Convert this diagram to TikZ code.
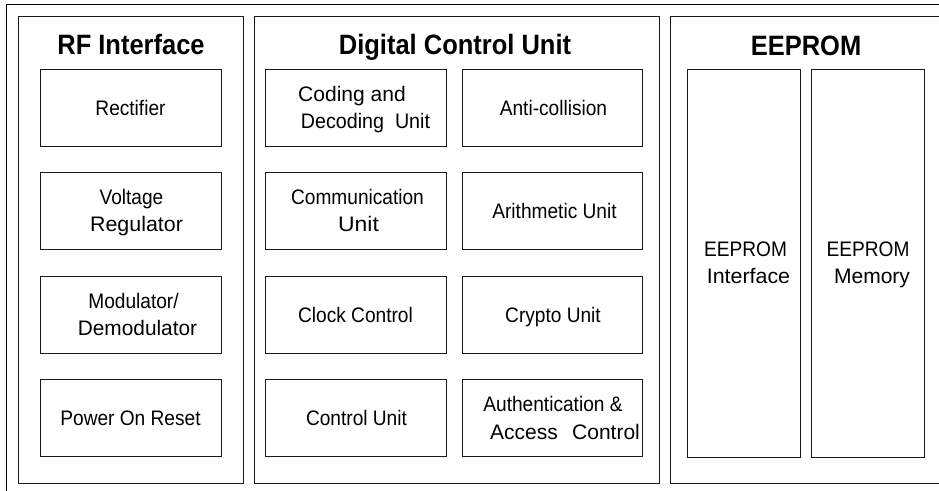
\documentclass[tikz,border=0pt]{standalone}
\usepackage{fontspec}
\setmainfont{Liberation Sans}[FakeStretch=0.91]
\begin{document}
\begin{tikzpicture}[x=1pt,y=-1pt,
  ln/.style={draw=black!90, line width=1pt},
  blk/.style={ln, rectangle, inner sep=0pt},
  rfbox/.style={blk, minimum width=181pt, minimum height=77pt},
  dubox/.style={blk, minimum width=181pt, minimum height=77pt},
  dubox2/.style={blk, minimum width=180pt, minimum height=77pt},
  eebox/.style={blk, minimum width=113pt, minimum height=388pt},
  txt/.style={inner sep=0pt, text depth=0pt, font=\fontsize{21}{27.5}\selectfont},
  lnA/.style={txt, anchor=base},
  ttl/.style={anchor=base, inner sep=0pt, font=\fontsize{28}{30}\bfseries\selectfont}]
\useasboundingbox (0,0) rectangle (939,490);
\clip (0,0) rectangle (939,490);
\fill[white] (0,0) rectangle (939,490);
% outer frame (cropped at right and bottom)
\draw[ln, draw=black] (6,510) -- (6,4) -- (960,4);
% panels
\draw[ln] (18,16) rectangle (243,483);
\draw[ln] (254,16) rectangle (659,483);
\draw[ln] (960,16) -- (670,16) -- (670,483) -- (960,483);
% titles
\node[ttl] (trf) at (131,54) {RF Interface};
\node[ttl] (tdu) at (455,54) {Digital Control Unit};
\node[ttl] (tee) at (806,55) {EEPROM};
% RF interface boxes
\node[rfbox] (rect) at (130.5,107.5) {};
\node[rfbox] (vreg) at (130.5,210.5) {};
\node[rfbox] (mod)  at (130.5,314.5) {};
\node[rfbox] (por)  at (130.5,418) {};
% Digital control unit boxes
\node[dubox] (cod)  at (355.5,107.5) {};
\node[dubox] (comm) at (355.5,210.5) {};
\node[dubox] (clk)  at (355.5,314.5) {};
\node[dubox] (ctl)  at (355.5,418) {};
\node[dubox2] (anti) at (552,107.5) {};
\node[dubox2] (arit) at (552,210.5) {};
\node[dubox2] (cryp) at (552,314.5) {};
\node[dubox2] (auth) at (552,418) {};
% EEPROM boxes
\node[eebox] (eif)  at (743.5,263) {};
\node[eebox] (emem) at (867.5,263) {};
% single-line texts
\node[txt] (trect) at (rect.center) {Rectifier};
\node[txt] (tpor)  at (por.center) {Power On Reset};
\node[txt] (tclk)  at (clk.center) {Clock Control};
\node[txt] (tctl)  at ([xshift=1pt]ctl.center) {Control Unit};
\node[txt] (tanti) at ([xshift=1.5pt]anti.center) {Anti-collision};
\node[txt] (tarit) at ([xshift=2.5pt]arit.center) {Arithmetic Unit};
\node[txt] (tcryp) at ([xshift=1pt]cryp.center) {Crypto Unit};
% two-line texts
\node[lnA] (tvreg1) at ([shift={(1,-6.25)}]vreg.center) {Voltage};
\node[lnA] (tvreg2) at ([shift={(6,21.25)}]vreg.center) {\scalebox{1.12}[1]{Regulator}};
\node[lnA] (tmod1)  at ([shift={(3,-6.25)}]mod.center) {Modulator/};
\node[lnA] (tmod2)  at ([shift={(7,21.25)}]mod.center) {\scalebox{1.09}[1]{Demodulator}};
\node[lnA] (tcod1)  at ([shift={(-3.5,-6.25)}]cod.center) {\scalebox{1.1}[1]{Coding and}};
\node[lnA] (tcod2)  at ([shift={(10,21.25)}]cod.center) {\scalebox{1.03}[1]{Decoding~~Unit}};
\node[lnA] (tcomm1) at ([shift={(2,-6.25)}]comm.center) {Communication};
\node[lnA] (tcomm2) at ([shift={(3,21.25)}]comm.center) {\scalebox{1.2}[1]{Unit}};
\node[lnA] (tauth1) at ([shift={(1,-6.25)}]auth.center) {Authentication \&};
\node[lnA] (tauth2) at ([shift={(13,21.25)}]auth.center) {\scalebox{1.1}[1]{Access\hspace{13pt}Control}};
\node[lnA] (teif1)  at ([shift={(2,-7)}]eif.center) {EEPROM};
\node[lnA] (teif2)  at ([shift={(5,20.5)}]eif.center) {\scalebox{1.12}[1]{Interface}};
\node[lnA] (temem1) at ([shift={(0.5,-7)}]emem.center) {EEPROM};
\node[lnA] (temem2) at ([shift={(4.5,20.5)}]emem.center) {\scalebox{1.1}[1]{Memory}};
\end{tikzpicture}
\end{document}
